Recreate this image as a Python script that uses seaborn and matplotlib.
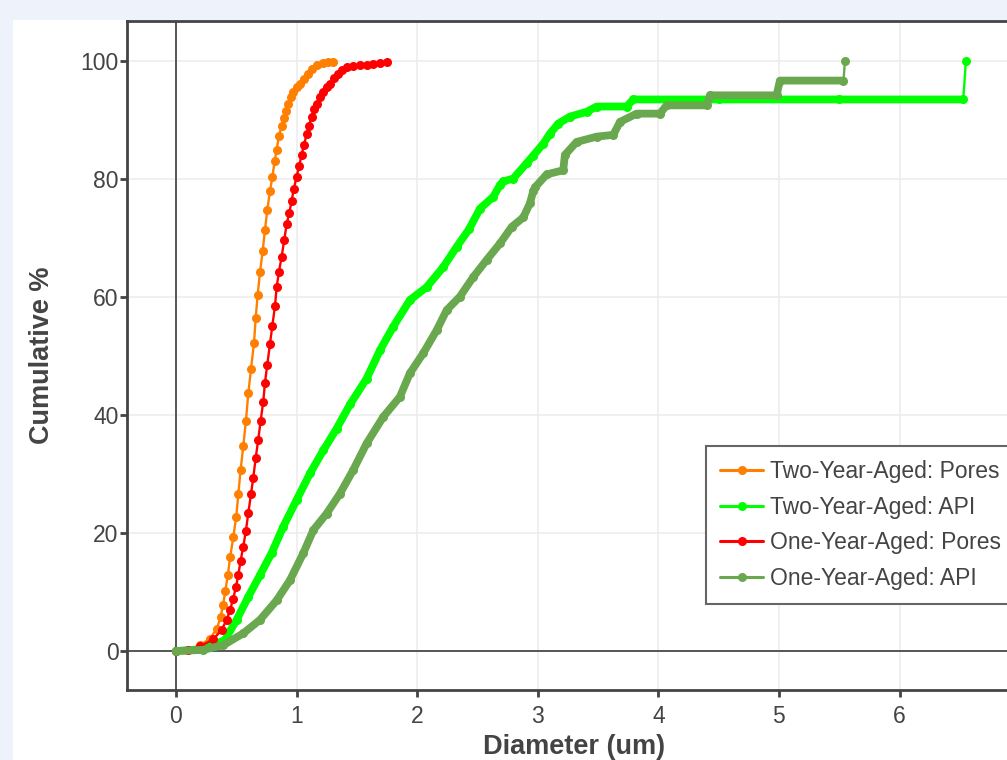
import matplotlib
matplotlib.use("Agg")
import matplotlib.pyplot as plt
import seaborn as sns
from matplotlib.patches import Rectangle
from matplotlib.lines import Line2D

# ---------------- data ----------------
two_pores_x = [0, 0.1, 0.2, 0.28, 0.34, 0.37, 0.39, 0.41, 0.43, 0.45, 0.475, 0.50, 0.517, 0.536,
               0.558, 0.58, 0.60, 0.622, 0.647, 0.661, 0.677, 0.697, 0.719, 0.738, 0.757, 0.779,
               0.799, 0.818, 0.835, 0.854, 0.876, 0.896, 0.912, 0.93, 0.95, 0.973, 1.0, 1.028,
               1.06, 1.097, 1.13, 1.167, 1.22, 1.26, 1.304]
two_pores_y = [0, 0.2, 1.0, 2.1, 3.8, 5.8, 7.8, 10.2, 12.9, 16.0, 19.3, 22.8, 26.6, 30.7,
               34.7, 39.0, 43.7, 47.8, 52.2, 56.4, 60.3, 64.3, 67.8, 71.4, 74.7, 77.9,
               80.3, 83.0, 85.0, 87.3, 89.0, 90.3, 91.5, 92.8, 93.9, 94.8, 95.6, 96.2,
               97.0, 97.8, 98.6, 99.3, 99.6, 99.8, 99.9]

one_pores_x = [0, 0.1, 0.2, 0.31, 0.379, 0.42, 0.448, 0.475, 0.498, 0.517, 0.536, 0.558, 0.58,
               0.60, 0.622, 0.641, 0.661, 0.682, 0.702, 0.724, 0.738, 0.757, 0.779, 0.799,
               0.821, 0.835, 0.854, 0.876, 0.898, 0.918, 0.94, 0.959, 0.978, 1.0, 1.022,
               1.042, 1.061, 1.084, 1.103, 1.125, 1.145, 1.167, 1.195, 1.221, 1.25, 1.277,
               1.31, 1.346, 1.38, 1.415, 1.47, 1.526, 1.58, 1.636, 1.69, 1.747]
one_pores_y = [0, 0.2, 0.8, 2.0, 3.6, 5.3, 6.9, 8.9, 10.9, 12.9, 15.3, 17.7, 20.4,
               23.4, 26.6, 29.4, 32.7, 35.8, 39.0, 42.3, 45.5, 48.5, 52.0, 55.1,
               58.5, 61.7, 64.3, 66.8, 69.7, 72.4, 74.3, 76.3, 78.4, 80.4, 82.3,
               84.1, 85.8, 87.6, 89.0, 90.6, 91.8, 92.8, 93.9, 94.8, 95.6, 96.2,
               97.1, 97.9, 98.5, 99.0, 99.2, 99.3, 99.4, 99.5, 99.6, 99.9]

two_api_x = [0, 0.2, 0.3, 0.406, 0.503, 0.6, 0.697, 0.793, 0.89, 1.0, 1.111, 1.221, 1.332,
             1.443, 1.581, 1.692, 1.802, 1.94, 2.079, 2.217, 2.327, 2.43, 2.521, 2.631,
             2.687, 2.714, 2.797, 2.908, 2.963, 3.046, 3.101, 3.17, 3.267, 3.405, 3.488,
             3.737, 3.792, 4.5, 5.5, 6.528, 6.55]
two_api_y = [0, 0.3, 0.9, 1.9, 5.3, 9.2, 12.9, 16.6, 21.1, 25.6, 30.1, 34.0, 37.7,
             41.8, 46.2, 51.0, 55.0, 59.5, 61.7, 65.1, 68.5, 71.5, 75.0, 77.0,
             79.0, 79.6, 80.1, 82.7, 84.0, 86.0, 87.7, 89.4, 90.6, 91.4, 92.3,
             92.3, 93.5, 93.5, 93.5, 93.5, 100.0]

one_api_x = [0, 0.226, 0.393, 0.558, 0.697, 0.835, 0.945, 1.056, 1.139, 1.249, 1.36, 1.47,
             1.581, 1.719, 1.857, 1.94, 2.051, 2.162, 2.245, 2.355, 2.465, 2.576, 2.687,
             2.784, 2.88, 2.935, 2.963, 2.977, 3.074, 3.211, 3.225, 3.322, 3.488, 3.626,
             3.682, 3.82, 4.013, 4.068, 4.4, 4.428, 4.98, 5.008, 5.535, 5.547]
one_api_y = [0, 0.2, 1.0, 3.0, 5.3, 8.6, 12.0, 16.6, 20.5, 23.3, 26.7, 30.7,
             35.2, 39.7, 43.1, 47.1, 50.5, 54.4, 57.8, 60.1, 63.4, 66.3, 69.1,
             71.9, 73.5, 75.9, 78.0, 78.6, 80.8, 81.5, 84.1, 86.3, 87.2, 87.5,
             89.7, 91.1, 91.1, 92.5, 92.5, 94.2, 94.2, 96.7, 96.7, 100.0]

labels = ["Two-Year-Aged: Pores", "Two-Year-Aged: API",
          "One-Year-Aged: Pores", "One-Year-Aged: API"]
colors = ["#ff8000", "#00ff00", "#ff0000", "#6aa84f"]

x_ticks = [0, 1, 2, 3, 4, 5, 6]
y_ticks = [0, 20, 40, 60, 80, 100]

# ---------------- figure ----------------
sns.set_theme(style="white")
plt.rcParams["font.family"] = ["Liberation Sans", "DejaVu Sans"]

W, H = 1007, 760
fig = plt.figure(figsize=(W / 100, H / 100), dpi=100)
fig.patch.set_facecolor("#eef2fa")
fig.patches.append(Rectangle((13 / W, 0), 1 - 13 / W, 1 - 20 / H, transform=fig.transFigure,
                             facecolor="white", edgecolor="none", zorder=-10))

xmin, xmax = -0.406, 7.0
ppu = 120.6
ax_w = (xmax - xmin) * ppu
ax = fig.add_axes([127 / W, 70 / H, ax_w / W, 669 / H])
ax.set_facecolor("white")
ax.set_xlim(xmin, xmax)
ax.set_ylim(-6.6, 106.8)

ax.set_xticks(x_ticks)
ax.set_yticks(y_ticks)
ax.grid(True, color="#ececec", lw=1.1, zorder=0)
ax.axvline(0, color="#555555", lw=1.4, zorder=1)
ax.axhline(0, color="#555555", lw=1.4, zorder=1)

series = [(two_pores_x, two_pores_y, False),
          (two_api_x, two_api_y, True),
          (one_pores_x, one_pores_y, False),
          (one_api_x, one_api_y, True)]

handles = []
for (xs, ys, dense), lab, c in zip(series, labels, colors):
    if dense:
        # dense marker band (all but the last jump)
        sns.lineplot(x=xs[:-1], y=ys[:-1], ax=ax, color=c, lw=5.6, estimator=None, sort=False,
                     legend=False, solid_capstyle="round", solid_joinstyle="round", zorder=3)
    sns.lineplot(x=xs, y=ys, ax=ax, color=c, lw=1.7, marker="o", markersize=6.5,
                 markeredgewidth=0, estimator=None, sort=False, legend=False, zorder=3)
    handles.append(Line2D([], [], color=c, lw=2.2, marker="o", markersize=6.5,
                          markeredgewidth=0, label=lab))

for side in ["left", "bottom", "top"]:
    ax.spines[side].set_visible(True)
    ax.spines[side].set_color("#444444")
    ax.spines[side].set_linewidth(2.0)
ax.spines["right"].set_visible(False)

ax.tick_params(axis="both", which="major", direction="out", length=5, width=2,
               color="#444444", labelcolor="#444444", labelsize=16.5,
               bottom=True, left=True)
ax.tick_params(axis="x", pad=6)
ax.tick_params(axis="y", pad=1)

ax.set_xlabel("Diameter (um)", fontsize=19.5, fontweight="bold", color="#444444", labelpad=4)
ax.set_ylabel("Cumulative %", fontsize=19.5, fontweight="bold", color="#444444", labelpad=18)

leg = fig.legend(handles=handles, loc="upper left", bbox_to_anchor=(706 / W, 1 - 446 / H),
                 fontsize=16.5, frameon=True, fancybox=False, framealpha=1,
                 edgecolor="#666666", handlelength=1.9, handletextpad=0.3,
                 labelspacing=0.56, borderpad=0.6, borderaxespad=0)
leg.get_frame().set_linewidth(1.5)
for t in leg.get_texts():
    t.set_color("#444444")

fig.savefig("out.png", dpi=100, facecolor=fig.get_facecolor())
